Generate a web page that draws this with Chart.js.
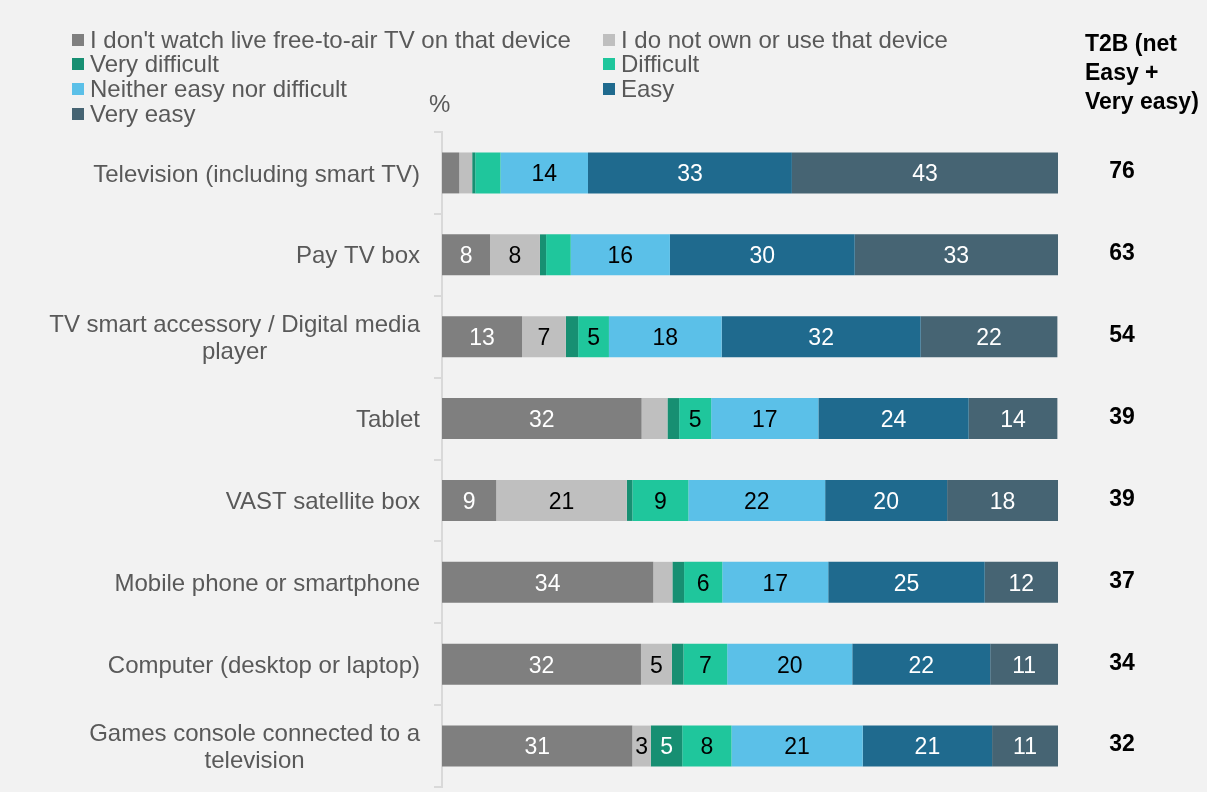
<!DOCTYPE html>
<html>
<head>
<meta charset="utf-8">
<script src="https://cdn.jsdelivr.net/npm/chart.js@4.4.1/dist/chart.umd.min.js"></script>
<style>
  html, body { margin: 0; padding: 0; background: #f2f2f2; }
  #wrap { width: 1207px; height: 792px; position: relative; }
</style>
</head>
<body>
<div id="wrap"><canvas id="easeChart" width="1207" height="792"></canvas></div>
<script>
// categories (top to bottom)
const categories = [
  ["Television (including smart TV)"],
  ["Pay TV box"],
  ["TV smart accessory / Digital media", "player"],
  ["Tablet"],
  ["VAST satellite box"],
  ["Mobile phone or smartphone"],
  ["Computer (desktop or laptop)"],
  ["Games console connected to a", "television"]
];

const seriesNames = [
  "I don't watch live free-to-air TV on that device",
  "I do not own or use that device",
  "Very difficult",
  "Difficult",
  "Neither easy nor difficult",
  "Easy",
  "Very easy"
];

// % values
const dontWatch     = [2.8, 7.8, 13.0, 32.4, 8.8, 34.3, 32.3, 30.9];
const dontOwn       = [2.1, 8.1, 7.1, 4.2, 21.2, 3.1, 5.0, 3.0];
const veryDifficult = [0.5, 1.0, 2.0, 1.9, 0.9, 1.9, 1.9, 5.1];
const difficult     = [4.1, 4.0, 5.0, 5.2, 9.1, 6.2, 7.1, 8.0];
const neither       = [14.2, 16.1, 18.3, 17.4, 22.2, 17.2, 20.3, 21.3];
const easy          = [33.1, 30.0, 32.3, 24.4, 19.8, 25.4, 22.4, 21.0];
const veryEasy      = [43.2, 33.0, 22.2, 14.4, 18.0, 11.9, 11.0, 10.7];

// T2B (net Easy + Very easy)
const t2b = [76, 63, 54, 39, 39, 37, 34, 32];
const t2bTitle = ["T2B (net", "Easy +", "Very easy)"];

const colors = ["#7f7f7f", "#bfbfbf", "#178f72", "#1fc69c", "#5bc0e8", "#1f6a8e", "#466473"];
const labelColors = ["#ffffff", "#000000", "#ffffff", "#000000", "#000000", "#ffffff", "#ffffff"];
const labelMin = 4.5;
const forcedLabels = [[1, 7]]; // small segments that still carry a label

const allSeries = [dontWatch, dontOwn, veryDifficult, difficult, neither, easy, veryEasy];

const FONT = "'Liberation Sans', Arial, sans-serif";

let datasets = allSeries.map((vals, i) => ({
  label: seriesNames[i],
  data: vals,
  backgroundColor: colors[i],
  borderWidth: 0,
  categoryPercentage: 1,
  barPercentage: 0.5
}));

// segment value labels
const segmentLabels = {
  id: "segmentLabels",
  afterDatasetsDraw(chart) {
    let ctx = chart.ctx;
    ctx.save();
    ctx.font = "23px " + FONT;
    ctx.textAlign = "center";
    ctx.textBaseline = "middle";
    chart.data.datasets.forEach((ds, di) => {
      let meta = chart.getDatasetMeta(di);
      meta.data.forEach((bar, i) => {
        let v = ds.data[i];
        let forced = forcedLabels.some(f => f[0] === di && f[1] === i);
        if (v < labelMin && !forced) return;
        let cx = (bar.x + bar.base) / 2;
        ctx.fillStyle = labelColors[di];
        ctx.fillText(Math.round(v), cx, bar.y + 2);
      });
    });
    ctx.restore();
  }
};

// category labels, legend, % and T2B column
const extras = {
  id: "extras",
  afterDraw(chart) {
    let ctx = chart.ctx;
    let y = chart.scales.y;
    ctx.save();

    // category labels (multi-line ones centred on their widest line)
    ctx.font = "24px " + FONT;
    ctx.fillStyle = "#595959";
    ctx.textBaseline = "middle";
    categories.forEach((lines, i) => {
      let cy = y.getPixelForTick(i) + 2;
      let widest = Math.max(...lines.map(l => ctx.measureText(l).width));
      let right = 420;
      let lh = 27;
      lines.forEach((l, k) => {
        let ly = cy + (k - (lines.length - 1) / 2) * lh;
        ctx.textAlign = "center";
        ctx.fillText(l, right - widest / 2, ly);
      });
    });

    // legend in two columns
    ctx.font = "24px " + FONT;
    ctx.textAlign = "left";
    let colX = [72, 603];
    let rowY = [40, 64, 89, 114];
    seriesNames.forEach((name, i) => {
      let x = colX[i % 2];
      let ly = rowY[Math.floor(i / 2)];
      ctx.fillStyle = colors[i];
      ctx.fillRect(x, ly - 6, 12, 12);
      ctx.fillStyle = "#595959";
      ctx.fillText(name, x + 18, ly + 1);
    });

    // % unit
    ctx.fillText("%", 429, 105);

    // T2B header and values
    ctx.fillStyle = "#000000";
    ctx.font = "bold 23px " + FONT;
    t2bTitle.forEach((l, k) => ctx.fillText(l, 1085, 45 + k * 29));
    ctx.font = "bold 23px " + FONT;
    ctx.textAlign = "center";
    t2b.forEach((v, i) => {
      ctx.fillText(v, 1122, y.getPixelForTick(i) - 1);
    });

    ctx.restore();
  }
};

let ctx = document.getElementById("easeChart").getContext("2d");

let chart = new Chart(ctx, {
  type: "bar",
  data: {
    labels: categories,
    datasets: datasets
  },
  options: {
    indexAxis: "y",
    responsive: false,
    animation: false,
    layout: { padding: { left: 0, right: 149, top: 132, bottom: 5 } },
    plugins: {
      legend: { display: false },
      tooltip: { enabled: false }
    },
    scales: {
      x: {
        stacked: true,
        min: 0,
        max: 100,
        display: false
      },
      y: {
        stacked: true,
        ticks: { display: false },
        grid: {
          offset: true,
          drawOnChartArea: false,
          drawTicks: true,
          tickLength: 8,
          color: "#d9d9d9",
          lineWidth: 2
        },
        border: { display: true, color: "#d9d9d9", width: 2 },
        afterFit(scale) { scale.width = 442; }
      }
    }
  },
  plugins: [segmentLabels, extras]
});
</script>
</body>
</html>
